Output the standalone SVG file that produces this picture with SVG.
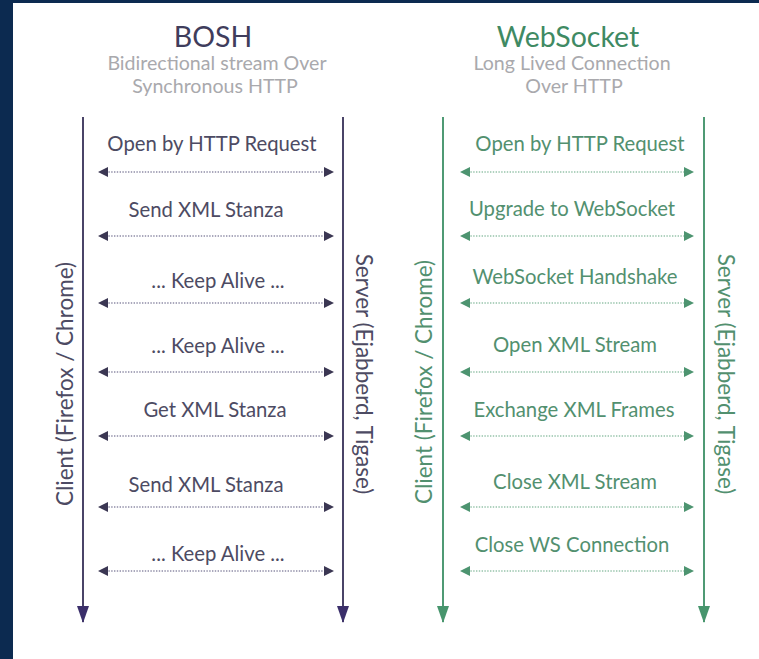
<svg xmlns="http://www.w3.org/2000/svg" width="759" height="659" viewBox="0 0 759 659">
  <style>
    text { font-family: Lato, "Open Sans", "Liberation Sans", sans-serif; dominant-baseline: central; text-anchor: middle; }
    .title { font-size: 28.5px; }
    .sub { font-size: 19.6px; fill: #a9a9ad; }
    .lbl { font-size: 20.3px; }
    .side { font-size: 22.5px; }
    .bosh text.t { fill: #4d4b63; }
    .bosh .title { fill: #3f3d5c; }
    .ws text.t { fill: #52906f; }
    .ws .title { fill: #3f8a63; }
    .life-b { stroke: #4a4468; stroke-width: 2; fill: none; }
    .life-w { stroke: #4f9a74; stroke-width: 2; fill: none; }
    .msg-b { stroke: #8e8ca6; stroke-width: 1.6; stroke-dasharray: 1.4 1.4; fill: none; }
    .msg-w { stroke: #96c4aa; stroke-width: 1.6; stroke-dasharray: 1.4 1.4; fill: none; }
  </style>
  <defs>
    <marker id="headB" viewBox="0 0 10 16" refX="8" refY="8" markerWidth="10" markerHeight="16" markerUnits="userSpaceOnUse" orient="auto">
      <path d="M0 3 L10 8 L0 13 Z" fill="#3b3753"/>
    </marker>
    <marker id="tailB" viewBox="0 0 10 16" refX="2" refY="8" markerWidth="10" markerHeight="16" markerUnits="userSpaceOnUse" orient="auto">
      <path d="M10 3 L0 8 L10 13 Z" fill="#3b3753"/>
    </marker>
    <marker id="headW" viewBox="0 0 10 16" refX="8" refY="8" markerWidth="10" markerHeight="16" markerUnits="userSpaceOnUse" orient="auto">
      <path d="M0 3 L10 8 L0 13 Z" fill="#4d9470"/>
    </marker>
    <marker id="tailW" viewBox="0 0 10 16" refX="2" refY="8" markerWidth="10" markerHeight="16" markerUnits="userSpaceOnUse" orient="auto">
      <path d="M10 3 L0 8 L10 13 Z" fill="#4d9470"/>
    </marker>
    <marker id="downB" viewBox="0 0 12 18" refX="6" refY="16" markerWidth="12" markerHeight="18" markerUnits="userSpaceOnUse" orient="0">
      <path d="M0 0 L12 0 L6 17 Z" fill="#3b2f6b"/>
    </marker>
    <marker id="downW" viewBox="0 0 12 18" refX="6" refY="16" markerWidth="12" markerHeight="18" markerUnits="userSpaceOnUse" orient="0">
      <path d="M0 0 L12 0 L6 17 Z" fill="#47956d"/>
    </marker>
  </defs>

  <!-- frame -->
  <rect x="0" y="0" width="759" height="659" fill="#0c2a50"/>
  <rect x="13" y="3" width="746" height="656" fill="#ffffff"/>

  <!-- BOSH column -->
  <g id="bosh" class="bosh">
    <text class="title" x="213" y="36">BOSH</text>
    <text class="sub" x="217" y="62">Bidirectional stream Over</text>
    <text class="sub" x="215" y="85">Synchronous HTTP</text>
    <g id="bosh-client"><text class="side t" transform="translate(64 384) rotate(-90)">Client (Firefox / Chrome)</text></g>
    <g id="bosh-server"><text class="side t" transform="translate(364 374) rotate(90)">Server (Ejabberd, Tigase)</text></g>
    <text class="lbl t" x="212" y="143">Open by HTTP Request</text>
    <text class="lbl t" x="206" y="209">Send XML Stanza</text>
    <text class="lbl t" x="218" y="280">... Keep Alive ...</text>
    <text class="lbl t" x="218" y="345">... Keep Alive ...</text>
    <text class="lbl t" x="215" y="409">Get XML Stanza</text>
    <text class="lbl t" x="206" y="484">Send XML Stanza</text>
    <text class="lbl t" x="218" y="553">... Keep Alive ...</text>
  </g>

  <!-- WebSocket column -->
  <g id="websocket" class="ws">
    <text class="title" x="568" y="36">WebSocket</text>
    <text class="sub" x="572" y="62">Long Lived Connection</text>
    <text class="sub" x="574" y="85">Over HTTP</text>
    <g id="ws-client"><text class="side t" transform="translate(423 382) rotate(-90)">Client (Firefox / Chrome)</text></g>
    <g id="ws-server"><text class="side t" transform="translate(726 374) rotate(90)">Server (Ejabberd, Tigase)</text></g>
    <text class="lbl t" x="580" y="143">Open by HTTP Request</text>
    <text class="lbl t" x="572" y="208">Upgrade to WebSocket</text>
    <text class="lbl t" x="575" y="276">WebSocket Handshake</text>
    <text class="lbl t" x="575" y="344">Open XML Stream</text>
    <text class="lbl t" x="574" y="409">Exchange XML Frames</text>
    <text class="lbl t" x="575" y="481">Close XML Stream</text>
    <text class="lbl t" x="572" y="544">Close WS Connection</text>
  </g>

  <!-- connectors -->
  <g id="connectors">
    <line class="life-b" x1="83" y1="117" x2="83" y2="622" marker-end="url(#downB)"/>
    <line class="life-b" x1="343" y1="117" x2="343" y2="622" marker-end="url(#downB)"/>
    <line class="life-w" x1="443" y1="117" x2="443" y2="622" marker-end="url(#downW)"/>
    <line class="life-w" x1="704" y1="117" x2="704" y2="622" marker-end="url(#downW)"/>

    <g id="bosh-msgs">
      <line class="msg-b" x1="100" y1="172" x2="332" y2="172" marker-start="url(#tailB)" marker-end="url(#headB)"/>
      <line class="msg-b" x1="100" y1="236" x2="332" y2="236" marker-start="url(#tailB)" marker-end="url(#headB)"/>
      <line class="msg-b" x1="100" y1="303" x2="332" y2="303" marker-start="url(#tailB)" marker-end="url(#headB)"/>
      <line class="msg-b" x1="100" y1="372" x2="332" y2="372" marker-start="url(#tailB)" marker-end="url(#headB)"/>
      <line class="msg-b" x1="100" y1="436" x2="332" y2="436" marker-start="url(#tailB)" marker-end="url(#headB)"/>
      <line class="msg-b" x1="100" y1="507" x2="332" y2="507" marker-start="url(#tailB)" marker-end="url(#headB)"/>
      <line class="msg-b" x1="100" y1="571" x2="332" y2="571" marker-start="url(#tailB)" marker-end="url(#headB)"/>
    </g>
    <g id="ws-msgs">
      <line class="msg-w" x1="462" y1="172" x2="692" y2="172" marker-start="url(#tailW)" marker-end="url(#headW)"/>
      <line class="msg-w" x1="462" y1="236" x2="692" y2="236" marker-start="url(#tailW)" marker-end="url(#headW)"/>
      <line class="msg-w" x1="462" y1="303" x2="692" y2="303" marker-start="url(#tailW)" marker-end="url(#headW)"/>
      <line class="msg-w" x1="462" y1="372" x2="692" y2="372" marker-start="url(#tailW)" marker-end="url(#headW)"/>
      <line class="msg-w" x1="462" y1="436" x2="692" y2="436" marker-start="url(#tailW)" marker-end="url(#headW)"/>
      <line class="msg-w" x1="462" y1="507" x2="692" y2="507" marker-start="url(#tailW)" marker-end="url(#headW)"/>
      <line class="msg-w" x1="462" y1="571" x2="692" y2="571" marker-start="url(#tailW)" marker-end="url(#headW)"/>
    </g>
  </g>
</svg>
